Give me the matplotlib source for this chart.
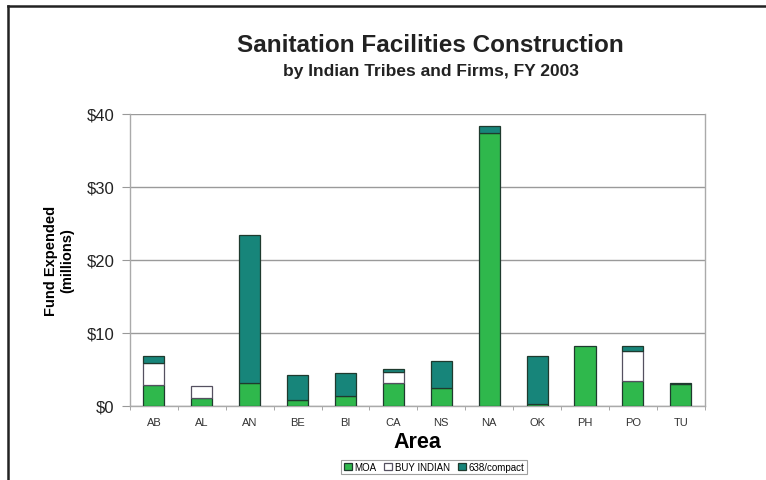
import numpy as np
import matplotlib.pyplot as plt
from matplotlib.lines import Line2D

plt.rcParams['font.family'] = ['Liberation Sans', 'DejaVu Sans']

areas = ['AB', 'AL', 'AN', 'BE', 'BI', 'CA', 'NS', 'NA', 'OK', 'PH', 'PO', 'TU']
moa = [2.9, 1.1, 3.1, 0.8, 1.3, 3.2, 2.5, 37.4, 0.3, 8.2, 3.4, 3.0]
buy_indian = [3.0, 1.6, 0, 0, 0, 1.4, 0, 0, 0, 0, 4.1, 0]
compact = [0.9, 0, 20.3, 3.5, 3.2, 0.4, 3.7, 0.9, 6.6, 0, 0.7, 0.2]
series_names = ['MOA', 'BUY INDIAN', '638/compact']
yticks = [0, 10, 20, 30, 40]

green = '#2fb84c'
teal = '#17857a'
edge = '#1f3a2e'

fig = plt.figure(figsize=(7.66, 4.81), dpi=100)
ax = fig.add_axes([0.1697, 0.154, 0.7503, 0.607])

x = np.arange(len(areas))
w = 0.44
moa = np.array(moa)
buy_indian = np.array(buy_indian)
compact = np.array(compact)

def lw(v):
    return [0.9 if a > 0 else 0 for a in v]

ax.bar(x, moa, w, color=green, edgecolor=edge, linewidth=lw(moa), zorder=3, label=series_names[0])
ax.bar(x, buy_indian, w, bottom=moa, color='white', edgecolor='#555060',
       linewidth=lw(buy_indian), zorder=3, label=series_names[1])
ax.bar(x, compact, w, bottom=moa + buy_indian, color=teal, edgecolor=edge,
       linewidth=lw(compact), zorder=3, label=series_names[2])

ax.set_xlim(-0.5, len(areas) - 0.5)
ax.set_ylim(0, 40)
ax.set_yticks(yticks)
ax.set_yticklabels(['$%d' % v for v in yticks], fontsize=12, color='#222222')
ax.set_xticks(x)
ax.set_xticklabels(areas, fontsize=8, color='#333333')
ax.set_xticks(np.arange(-0.5, len(areas)), minor=True)
ax.tick_params(axis='x', which='major', length=0, pad=8)
ax.tick_params(axis='x', which='minor', length=3, color='#999999')
ax.tick_params(axis='y', length=6, color='#999999', pad=5)

ax.grid(axis='y', color='#9a9a9a', linewidth=1.0, zorder=0)
for s in ax.spines.values():
    s.set_color('#aaaaaa')
    s.set_linewidth(1.0)
ax.spines['top'].set_visible(False)

ax.set_xlabel('Area', fontsize=15.5, fontweight='bold', labelpad=3)
ax.set_ylabel('Fund Expended\n(millions)', fontsize=10.5, fontweight='bold', labelpad=9)

fig.text(0.562, 0.905, 'Sanitation Facilities Construction', ha='center', va='center',
         fontsize=17.5, fontweight='bold', color='#222222')
fig.text(0.562, 0.851, 'by Indian Tribes and Firms, FY 2003', ha='center', va='center',
         fontsize=12.5, fontweight='bold', color='#222222')

leg = ax.legend(loc='upper center', bbox_to_anchor=(0.529, -0.167), ncol=3, fontsize=7,
                frameon=True, fancybox=False, edgecolor='#888888', handlelength=0.8,
                handleheight=0.8, handletextpad=0.3, columnspacing=0.8, borderpad=0.25)
leg.get_frame().set_linewidth(0.8)

# outer frame: top and left lines only
fig.add_artist(Line2D([8 / 766, 1], [1 - 7 / 481, 1 - 7 / 481], color='#222222', linewidth=1.8))
fig.add_artist(Line2D([8 / 766, 8 / 766], [0, 1 - 7 / 481], color='#222222', linewidth=1.8))

fig.savefig('out.png', dpi=100)
